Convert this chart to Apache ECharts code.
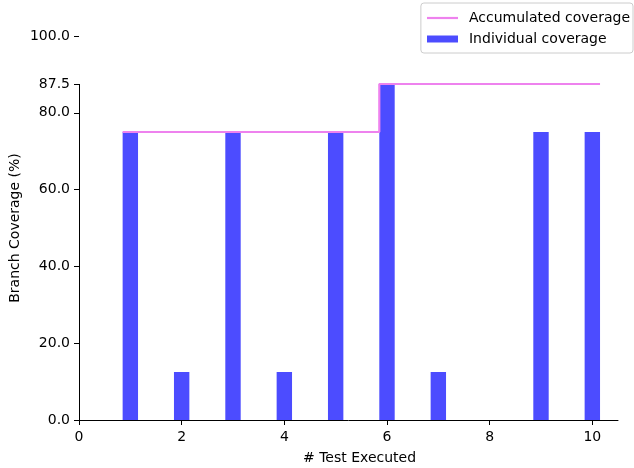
<!DOCTYPE html>
<html>
<head>
<meta charset="utf-8">
<script src="https://cdn.jsdelivr.net/npm/echarts@6/dist/echarts.min.js"></script>
<style>html,body{margin:0;padding:0;background:#fff}#c{width:634px;height:468px}</style>
</head>
<body>
<div id="c"></div>
<script>
const tests = [1, 2, 3, 4, 5, 6, 7, 8, 9, 10];
const individual = [75, 12.5, 75, 12.5, 75, 87.5, 12.5, 0, 75, 75];
const accumulated = [75, 75, 75, 75, 75, 87.5, 87.5, 87.5, 87.5, 87.5];
const yTicks = [0, 20, 40, 60, 80, 87.5, 100];
const xTicks = [0, 2, 4, 6, 8, 10];

const BAR_W = 0.3;
const X_MAX = 10.5;
const GRID = {left: 79, right: 16, top: 36, bottom: 48};
const plotW = 634 - GRID.left - GRID.right;
const barPx = BAR_W / X_MAX * plotW;

const barData = tests.map((t, i) => [t, individual[i]]);
const stepData = tests.map((t, i) => [t - BAR_W / 2, accumulated[i]]);
stepData.push([tests[tests.length - 1] + BAR_W / 2, accumulated[accumulated.length - 1]]);

const font = 'DejaVu Sans';
const chart = echarts.init(document.getElementById('c'));
chart.setOption({
  animation: false,
  textStyle: {fontFamily: font},
  grid: Object.assign({outerBoundsMode: 'none', containLabel: false}, GRID),
  legend: {
    orient: 'vertical', right: 1, top: 3,
    borderColor: '#cccccc', borderWidth: 1, borderRadius: 3,
    padding: [7, 3, 6, 5], itemGap: 5,
    itemWidth: 31, itemHeight: 7,
    textStyle: {fontFamily: font, fontSize: 14, lineHeight: 16, color: '#000', padding: [0, 0, 0, 6]},
    data: [
      {name: 'Accumulated coverage', itemStyle: {opacity: 0}, lineStyle: {width: 2.2, color: '#ee82ee'}},
      {name: 'Individual coverage', icon: 'rect'}
    ]
  },
  xAxis: {
    type: 'value', min: 0, max: X_MAX,
    splitLine: {show: false},
    axisLine: {show: true, lineStyle: {color: '#000', width: 1}},
    axisTick: {show: true, length: 5, lineStyle: {color: '#000'}, customValues: xTicks},
    axisLabel: {color: '#000', fontSize: 14, margin: 10, fontFamily: font, customValues: xTicks},
  },
  yAxis: {
    type: 'value', min: 0, max: 100,
    name: 'Branch Coverage (%)', nameLocation: 'middle', nameGap: 57, nameMoveOverlap: false,
    nameTextStyle: {color: '#000', fontSize: 14, fontFamily: font},
    splitLine: {show: false},
    axisLine: {show: false},
    axisTick: {show: true, length: 5, lineStyle: {color: '#000'}, customValues: yTicks},
    axisLabel: {color: '#000', fontSize: 14, margin: 9, fontFamily: font, customValues: yTicks,
      formatter: v => Number(v).toFixed(1)}
  },
  graphic: [{
    type: 'text', left: 303, top: 451,
    style: {text: '# Test Executed', font: '14px "DejaVu Sans"', fill: '#000'}
  }],
  series: [
    {
      name: 'Individual coverage', type: 'bar', data: barData, barWidth: barPx,
      itemStyle: {color: 'rgba(0,0,255,0.7)'},
      z: 2,
      markLine: {
        silent: true, symbol: 'none', animation: false,
        lineStyle: {color: '#000', width: 1, type: 'solid'},
        label: {show: false},
        data: [[{coord: [0, 0]}, {coord: [0, 87.5]}]]
      }
    },
    {
      name: 'Accumulated coverage', type: 'line', data: stepData, step: 'end',
      symbol: 'none', lineStyle: {color: '#ee82ee', width: 2.2},
      itemStyle: {color: '#ee82ee'}, z: 3
    }
  ]
});
</script>
</body>
</html>
